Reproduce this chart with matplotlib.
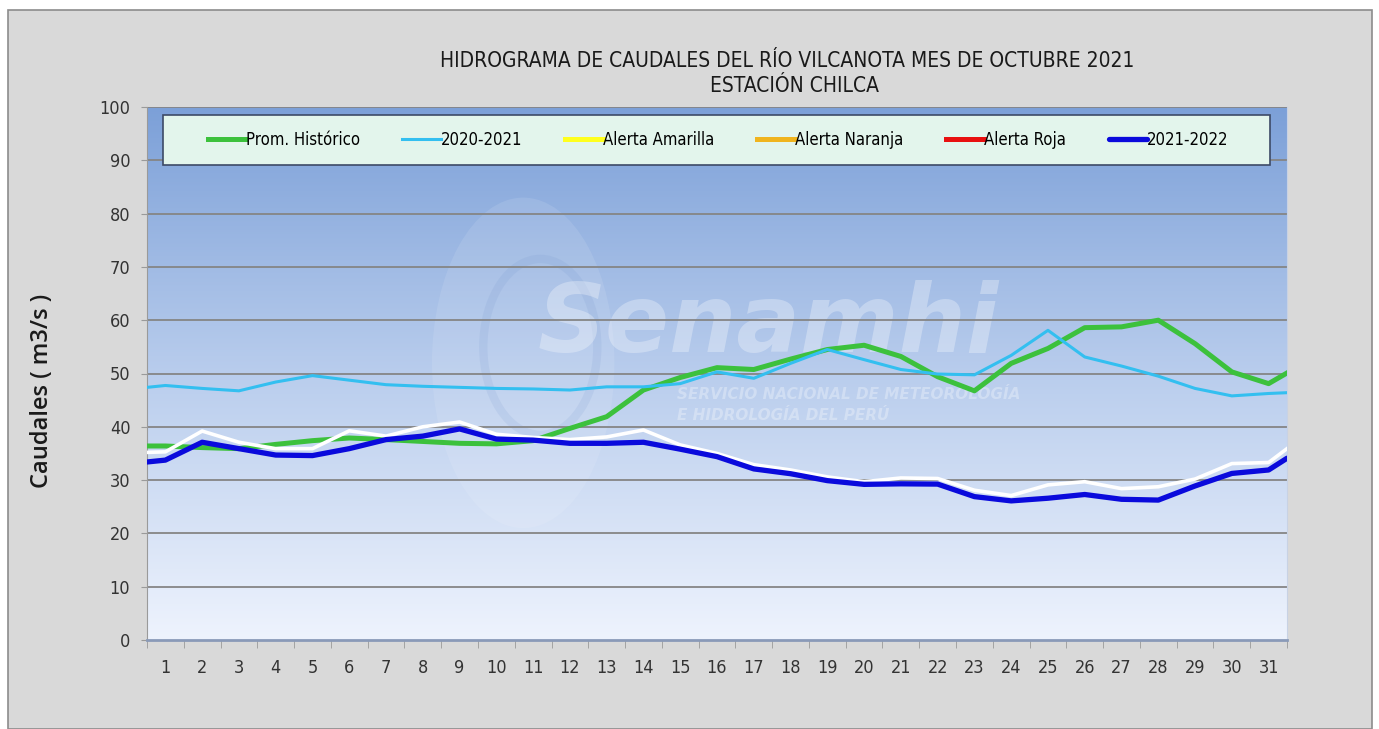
import numpy as np
import matplotlib
matplotlib.use("Agg")
import matplotlib.pyplot as plt
from matplotlib.patches import Rectangle, Ellipse
from matplotlib import font_manager as fm

# ---------------- data ----------------
days = list(range(1, 32))
day_labels = [str(d) for d in days]

prom_historico = [36.4, 36.1, 35.9, 36.7, 37.4, 37.9, 37.6, 37.25, 36.9, 36.8, 37.4,
                  39.7, 41.9, 46.9, 49.25, 51.1, 50.75, 52.7, 54.5, 55.3, 53.2,
                  49.4, 46.75, 51.9, 54.7, 58.6, 58.75, 60.0, 55.6, 50.3, 48.1]
serie_2020_2021 = [47.75, 47.2, 46.75, 48.4, 49.6, 48.75, 47.9, 47.6, 47.4, 47.2, 47.1,
                   46.9, 47.5, 47.5, 48.1, 50.3, 49.1, 51.9, 54.5, 52.6, 50.75,
                   49.9, 49.75, 53.4, 58.1, 53.1, 51.4, 49.5, 47.2, 45.8, 46.25]
serie_2021_2022 = [33.75, 37.1, 35.9, 34.7, 34.6, 35.9, 37.6, 38.25, 39.6, 37.7, 37.5,
                   36.9, 36.9, 37.1, 35.8, 34.4, 32.1, 31.2, 29.9, 29.2, 29.3,
                   29.25, 26.9, 26.1, 26.6, 27.3, 26.4, 26.25, 28.9, 31.25, 31.9]
serie_blanca = [35.3, 39.2, 37.1, 35.9, 35.9, 39.25, 38.25, 40.0, 40.9, 38.6, 38.0,
                37.6, 38.1, 39.4, 36.6, 35.0, 32.9, 31.9, 30.6, 29.7, 30.4,
                30.3, 28.1, 27.1, 29.1, 29.7, 28.4, 28.75, 30.2, 33.1, 33.3]
# values where each line meets the left / right edge of the plot area
edge_left = {"prom": 36.4, "c2020": 47.4, "c2021": 33.4, "blanca": 35.2}
edge_right = {"prom": 50.1, "c2020": 46.4, "c2021": 34.1, "blanca": 35.9}

title1 = "HIDROGRAMA DE CAUDALES DEL RÍO VILCANOTA MES DE OCTUBRE 2021"
title2 = "ESTACIÓN CHILCA"
ylabel = "Caudales ( m3/s )"

# ---------------- fonts ----------------
available = {f.name for f in fm.fontManager.ttflist}
condensed_faces = {(f.name, f.stretch) for f in fm.fontManager.ttflist}
if "Liberation Sans Narrow" in available:
    NARROW = dict(family=["Liberation Sans Narrow", "DejaVu Sans"])
elif any(n == "DejaVu Sans" and s in ("condensed", 75, "semi-condensed", 87.5) for n, s in condensed_faces):
    NARROW = dict(family=["DejaVu Sans"], stretch="condensed")
else:
    NARROW = dict(family=["DejaVu Sans"])

# ---------------- figure ----------------
W, H = 1379, 729
fig = plt.figure(figsize=(W / 100, H / 100), dpi=100)
fig.patch.set_facecolor("white")

def fx(px):
    return px / W

def fy(py):
    return 1 - py / H

# outer chart frame
frame = Rectangle((fx(8), 0), fx(1372) - fx(8), fy(10), transform=fig.transFigure,
                  facecolor="#d9d9d9", edgecolor="#8c8c8c", lw=1.2, zorder=-10)
fig.patches.append(frame)

ax = fig.add_axes([fx(147), fy(640), fx(1287) - fx(147), fy(107) - fy(640)])
ax.set_zorder(1)

# gradient background
top = np.array([124, 160, 216]) / 255
mid = np.array([185, 205, 237]) / 255
bot = np.array([238, 243, 253]) / 255
t = np.linspace(0, 1, 256)[:, None]
grad = np.where(t < 0.5, top + (mid - top) * (t / 0.5), mid + (bot - mid) * ((t - 0.5) / 0.5))
ax.imshow(grad[:, None, :], extent=[0, 1, 0, 1], transform=ax.transAxes, aspect="auto",
          zorder=0, interpolation="bicubic")
ax.set_xlim(0.5, 31.5)
ax.set_ylim(0, 100)

# watermark (logo + text)
ax.add_patch(Ellipse((0.33, 0.52), 0.16, 0.62, transform=ax.transAxes, facecolor="white",
                     alpha=0.10, edgecolor="none", zorder=0.5))
ax.add_patch(Ellipse((0.345, 0.55), 0.10, 0.33, transform=ax.transAxes, facecolor="none",
                     alpha=0.10, edgecolor="#5a7fc0", lw=6, zorder=0.5))
ax.text(0.545, 0.59, "Senamhi", transform=ax.transAxes, fontsize=68, fontweight="bold",
        style="italic", color="white", alpha=0.30, ha="center", va="center", zorder=0.6,
        family=["DejaVu Sans"])
ax.text(0.465, 0.44, "SERVICIO NACIONAL DE METEOROLOGÍA\nE HIDROLOGÍA DEL PERÚ", transform=ax.transAxes,
        fontsize=11, fontweight="bold", style="italic", color="white", alpha=0.30,
        ha="left", va="center", zorder=0.6, linespacing=1.5, family=["DejaVu Sans"])

# grid
for v in range(10, 101, 10):
    ax.axhline(v, color="#858585", lw=1.3, zorder=1)

x_full = [0.5] + days + [31.5]

def full(key, vals):
    return [edge_left[key]] + list(vals) + [edge_right[key]]

ax.plot(x_full, full("prom", prom_historico), color="#3cc13c", lw=3.6, zorder=3,
        solid_joinstyle="round", label="Prom. Histórico")
ax.plot(x_full, full("c2020", serie_2020_2021), color="#33bff0", lw=2.2, zorder=4,
        solid_joinstyle="round", label="2020-2021")
ax.plot([], [], color="#ffff1e", lw=3.6, label="Alerta Amarilla")
ax.plot([], [], color="#f0b41e", lw=3.6, label="Alerta Naranja")
ax.plot([], [], color="#e81010", lw=3.6, label="Alerta Roja")
ax.plot(x_full, full("blanca", serie_blanca), color="white", lw=2.6, zorder=5,
        solid_joinstyle="round", label="_nolegend_")
ax.plot(x_full, full("c2021", serie_2021_2022), color="#0a0adc", lw=3.8, zorder=6,
        solid_joinstyle="round", solid_capstyle="round", label="2021-2022")

# axes styling
ax.spines["top"].set_visible(False)
ax.spines["right"].set_color("#c8d2e4")
ax.spines["left"].set_color("#9a9a9a")
ax.spines["bottom"].set_color("#8a9ab8")
ax.spines["bottom"].set_linewidth(2.0)

ax.set_yticks(range(0, 101, 10))
ax.set_yticklabels([str(v) for v in range(0, 101, 10)], fontsize=13, color="#333333", **NARROW)
ax.tick_params(axis="y", length=4, color="#9a9a9a", pad=8)

ax.set_xticks(days)
ax.set_xticklabels(day_labels, fontsize=13, color="#333333", **NARROW)
ax.set_xticks(np.arange(0.5, 32, 1), minor=True)
ax.tick_params(axis="x", which="major", length=0, pad=14)
ax.tick_params(axis="x", which="minor", length=6, color="#9a9a9a")

# legend box + legend
x0 = (163 - 147) / 1140
x1 = (1270 - 147) / 1140
y0 = (640 - 165) / 533
y1 = (640 - 115) / 533
ax.add_patch(Rectangle((x0, y0), x1 - x0, y1 - y0, transform=ax.transAxes,
                       facecolor="#e3f5ec", edgecolor="#3d4a66", lw=1.2, zorder=9))
leg_prop = fm.FontProperties(size=12, **NARROW)
leg = ax.legend(loc="center", bbox_to_anchor=((718 - 147) / 1140, (y0 + y1) / 2),
                ncol=6, frameon=False, handlelength=2.3, handletextpad=0.0,
                columnspacing=2.55, borderaxespad=0, prop=leg_prop, borderpad=0)
leg.set_zorder(10)

# titles
fig.text(fx(787), fy(61), title1, ha="center", va="center", fontsize=15, color="#1a1a1a", **NARROW)
fig.text(fx(794), fy(86), title2, ha="center", va="center", fontsize=15, color="#1a1a1a", **NARROW)
fig.text(fx(42), fy(391), ylabel, ha="center", va="center", rotation=90, fontsize=17,
         fontweight="semibold", family=["Open Sans", "DejaVu Sans"], color="#1a1a1a")

fig.savefig("out.png", dpi=100)
